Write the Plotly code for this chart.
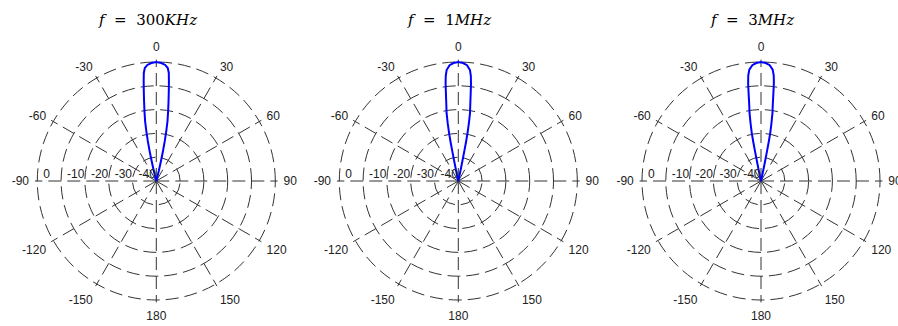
import plotly.graph_objects as go

# ---------------- data ----------------
titles = ["<i>f</i>\u00a0\u00a0=\u00a0\u00a0300<i>KHz</i>",
          "<i>f</i>\u00a0\u00a0=\u00a0\u00a01<i>MHz</i>",
          "<i>f</i>\u00a0\u00a0=\u00a0\u00a03<i>MHz</i>"]

theta_300k = [-15.0, -14.0, -13.2, -12.6, -12.0, -11.3, -10.6, -9.6, -8.7, -7.9, -7.2, -6.6, -5.8, -4.4, -2.4, 0.0,
              2.4, 4.4, 5.8, 6.6, 7.2, 7.9, 8.7, 9.6, 10.6, 11.3, 12.0, 12.6, 13.2, 14.0, 15.0]
db_300k = [-50, -45.7, -41.4, -37.1, -32.8, -28.6, -24.4, -20.2, -16.0, -11.8, -7.7, -4.3, -2.3, -1.1, -0.4, 0.0,
           -0.4, -1.1, -2.3, -4.3, -7.7, -11.8, -16.0, -20.2, -24.4, -28.6, -32.8, -37.1, -41.4, -45.7, -50]

theta_1m = [-13.0, -12.0, -11.6, -11.4, -11.2, -10.9, -10.4, -9.8, -8.7, -8.0, -7.4, -6.8, -6.0, -4.3, -2.3, 0.0,
            2.3, 4.3, 6.0, 6.8, 7.4, 8.0, 8.7, 9.8, 10.4, 10.9, 11.2, 11.4, 11.6, 12.0, 13.0]
db_1m = [-50, -45.5, -41.0, -37.3, -33.5, -29.6, -25.5, -21.1, -16.5, -12.5, -8.6, -5.5, -3.1, -1.2, -0.4, 0.0,
         -0.4, -1.2, -3.1, -5.5, -8.6, -12.5, -16.5, -21.1, -25.5, -29.6, -33.5, -37.3, -41.0, -45.5, -50]

theta_3m = [-13.0, -12.0, -11.6, -11.4, -11.2, -10.9, -10.3, -9.6, -8.6, -8.0, -7.5, -6.9, -6.0, -4.3, -2.3, 0.0,
            2.3, 4.3, 6.0, 6.9, 7.5, 8.0, 8.6, 9.6, 10.3, 10.9, 11.2, 11.4, 11.6, 12.0, 13.0]
db_3m = [-50, -45.5, -41.0, -37.2, -33.4, -29.6, -25.6, -21.2, -16.6, -12.4, -8.6, -5.4, -3.0, -1.2, -0.4, 0.0,
         -0.4, -1.2, -3.0, -5.4, -8.6, -12.4, -16.6, -21.2, -25.6, -29.6, -33.4, -37.2, -41.0, -45.5, -50]

radial_ticks = [-40, -30, -20, -10, 0]
radial_labels = ["-40", "-30", "-20", "-10", "0"]
angle_ticks = [0, 30, 60, 90, 120, 150, 180, 210, 240, 270, 300, 330]
angle_labels = ["0", "30", "60", "90", "120", "150", "180", "-150", "-120", "-90", "-60", "-30"]

series = [(theta_300k, db_300k), (theta_1m, db_1m), (theta_3m, db_3m)]

# ---------------- layout ----------------
W, H = 898, 326
centers_x = [156.3, 458.3, 761.0]
center_y = 181.0
R0 = 119.0                 # pixel radius of the 0 dB ring
r_min, r_max = -50, 1      # small headroom so the 0 dB ring is drawn as a grid circle
R = R0 * (r_max - r_min) / (0 - r_min)

grid_col = "#333333"
dash = "13px,6px"
lab_font = dict(family="Liberation Sans, Arial, sans-serif", size=12, color="#222222")

fig = go.Figure()
layout_polars = {}
annotations = []
for i, (th, db) in enumerate(series):
    name = "polar" if i == 0 else f"polar{i+1}"
    cx = centers_x[i]
    layout_polars[name] = dict(
        domain=dict(x=[(cx - R) / W, (cx + R) / W],
                    y=[(H - center_y - R) / H, (H - center_y + R) / H]),
        bgcolor="white",
        radialaxis=dict(range=[r_min, r_max], tickvals=radial_ticks, showticklabels=False,
                        ticks="", showline=False, gridcolor=grid_col, griddash=dash,
                        gridwidth=1, angle=180),
        angularaxis=dict(rotation=90, direction="clockwise", tickvals=angle_ticks,
                         ticktext=angle_labels, showline=False, gridcolor=grid_col,
                         griddash=dash, gridwidth=1, ticks="outside", ticklen=3,
                         tickcolor="rgba(0,0,0,0)", tickfont=lab_font),
    )
    fig.add_trace(go.Scatterpolar(r=db, theta=th, mode="lines",
                                  line=dict(color="#0000ff", width=2),
                                  subplot=name, showlegend=False, hoverinfo="skip"))
    fig.add_trace(go.Scatterpolar(r=radial_ticks, theta=[270] * len(radial_ticks),
                                  mode="text", text=["\u2002" + t for t in radial_labels],
                                  textposition="top right", textfont=lab_font,
                                  subplot=name, showlegend=False, hoverinfo="skip",
                                  cliponaxis=False))
    annotations.append(dict(x=cx / W, y=(H - 20) / H, xref="paper", yref="paper", xshift=-9,
                            text=titles[i], showarrow=False, xanchor="center", yanchor="middle",
                            font=dict(family="DejaVu Serif, serif", size=15, color="#000000")))

fig.update_layout(width=W, height=H, margin=dict(l=0, r=0, t=0, b=0),
                  paper_bgcolor="white", plot_bgcolor="white",
                  annotations=annotations, **layout_polars)

fig.write_html("out.html")
